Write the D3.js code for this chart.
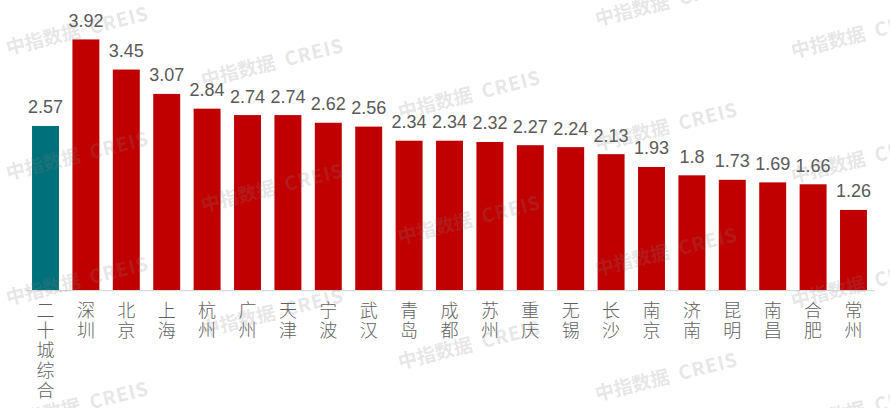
<!DOCTYPE html>
<html lang="zh">
<head>
<meta charset="UTF-8">
<title>二十城综合 对比</title>
<script src="https://d3js.org/d3.v7.min.js"></script>
<style>
  html, body { margin: 0; padding: 0; background: #fff; }
  svg { display: block; }
</style>
</head>
<body>
<svg id="chart" width="890" height="408"></svg>
<script>
  // data
  var cities = ["二十城综合", "深圳", "北京", "上海", "杭州", "广州", "天津", "宁波", "武汉", "青岛",
                "成都", "苏州", "重庆", "无锡", "长沙", "南京", "济南", "昆明", "南昌", "合肥", "常州"];
  var values = [2.57, 3.92, 3.45, 3.07, 2.84, 2.74, 2.74, 2.62, 2.56, 2.34,
                2.34, 2.32, 2.27, 2.24, 2.13, 1.93, 1.8, 1.73, 1.69, 1.66, 1.26];
  var valueLabels = ["2.57", "3.92", "3.45", "3.07", "2.84", "2.74", "2.74", "2.62", "2.56", "2.34",
                     "2.34", "2.32", "2.27", "2.24", "2.13", "1.93", "1.8", "1.73", "1.69", "1.66", "1.26"];

  var svg = d3.select("#chart"),
    width = +svg.attr("width"),
    height = +svg.attr("height");

  var baseY = 290.7;

  // scales
  var x = d3.scaleBand()
    .domain(cities)
    .range([25.3, 873.7])
    .paddingInner(0.333)
    .paddingOuter(0.1667);

  var y = d3.scaleLinear()
    .domain([0, 4])
    .range([baseY, baseY - 4 * 64.1]);

  var rows = cities.map(function(c, i) { return { city: c, value: values[i], label: valueLabels[i] }; });

  // bars
  svg.append("g")
    .selectAll("rect")
    .data(rows)
    .enter()
    .append("rect")
      .attr("x", function(d) { return x(d.city); })
      .attr("y", function(d) { return y(d.value); })
      .attr("width", x.bandwidth())
      .attr("height", function(d) { return y(0) - y(d.value); })
      .attr("fill", function(d, i) { return i === 0 ? "#00707a" : "#c00000"; });

  // baseline
  svg.append("line")
    .attr("x1", 25).attr("x2", 875)
    .attr("y1", baseY).attr("y2", baseY)
    .attr("stroke", "#d9d9d9")
    .attr("stroke-width", 1.2);

  // value labels
  svg.append("g")
    .selectAll("text")
    .data(rows)
    .enter()
    .append("text")
      .attr("x", function(d) { return x(d.city) + x.bandwidth() / 2; })
      .attr("y", function(d) { return y(d.value) - 12.5; })
      .attr("text-anchor", "middle")
      .attr("fill", "#595959")
      .style("font-family", "'Liberation Sans', Arial, sans-serif")
      .style("font-size", "18px")
      .text(function(d) { return d.label; });

  // category labels, one character per line
  var cat = svg.append("g")
    .selectAll("text")
    .data(rows)
    .enter()
    .append("text")
      .attr("text-anchor", "middle")
      .attr("fill", "#5f5f5f")
      .style("font-family", "'Noto Sans CJK SC', sans-serif")
      .style("font-weight", "300")
      .style("font-size", "18px");

  cat.selectAll("tspan")
    .data(function(d) { return Array.from(d.city).map(function(ch) { return { ch: ch, city: d.city }; }); })
    .enter()
    .append("tspan")
      .attr("x", function(d) { return x(d.city) + x.bandwidth() / 2; })
      .attr("y", function(d, i) { return 317 + i * 20; })
      .text(function(d) { return d.ch; });

  // watermark
  var wm = svg.append("g").attr("pointer-events", "none");
  var wmCols = [8, 203, 400, 597, 793];
  wmCols.forEach(function(wx, c) {
    var start = (55 + 32 * c) % 125;
    for (var r = -1; r < 4; r++) {
      var wy = start + 125 * r;
      var t = wm.append("text")
        .attr("transform", "translate(" + wx + "," + wy + ") rotate(-14)")
        .attr("fill", "rgba(128,128,128,0.21)")
        .style("font-family", "'Noto Sans CJK SC', sans-serif")
        .style("font-weight", "700")
        .style("font-size", "19px");
      t.append("tspan").text("中指数据");
      t.append("tspan").attr("dx", 10).style("letter-spacing", "1px").text("CREIS");
    }
  });
</script>
</body>
</html>
